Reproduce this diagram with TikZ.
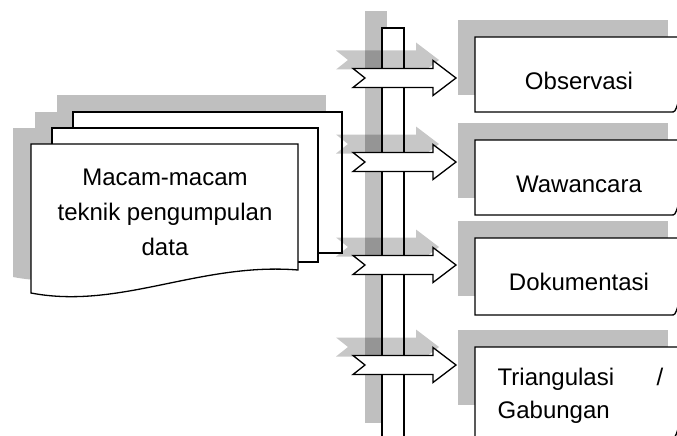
\documentclass[tikz,border=0pt]{standalone}
\usepackage{fontspec}
\setmainfont{Liberation Sans}

\begin{document}
\begin{tikzpicture}[x=1pt,y=-1pt,line width=1.3pt,
    every node/.style={font=\fontsize{24}{34}\selectfont,inner sep=0pt},
    shade/.style={fill=black!25,draw=none},
    arrowshade/.style={fill=black,fill opacity=0.22,draw=none},
    sheet/.style={draw=black,fill=white}]
    \useasboundingbox (0,0) rectangle (677,436);
    \clip (0,0) rectangle (677,436);
    \fill[shade] (57,95) rectangle (326,236);
    \fill[shade] (35,112) rectangle (301,245);
    \fill[shade] (13,128) -- (280,128) -- (280,254) .. controls (182,246) and (102,294) .. (13,277) -- cycle;
    \draw[sheet] (73,112) rectangle (342,253);
    \draw[sheet] (52,128) rectangle (318,262);
    \draw[sheet] (31,144) -- (298,144) -- (298,270) .. controls (200,262) and (120,310) .. (31,293) -- cycle;
    \node[anchor=base] (doc1) at (165,185) {Macam-macam};
    \node[anchor=base] (doc2) at (165,220) {teknik pengumpulan};
    \node[anchor=base] (doc3) at (165,255) {data};
    \foreach \t in {37,140,238,347}
        \fill[shade] (458,\t-17) rectangle (668,\t+58);
    \fill[shade] (365,11) rectangle (387,423);
    \draw[fill=white] (382,445) -- (382,28) -- (404,28) -- (404,445);
    \foreach \c in {78,162,265,365}{
        \begin{scope}[shift={(-17,\c-18)}]
            \fill[arrowshade] (353,-9.5) -- (433,-9.5) -- (433,-17.5) -- (456,0) -- (433,17.5) -- (433,9.5) -- (353,9.5) -- (365,0) -- cycle;
        \end{scope}
        \begin{scope}[shift={(0,\c)}]
            \draw[fill=white,line join=miter] (353,-9.5) -- (433,-9.5) -- (433,-17.5) -- (456,0) -- (433,17.5) -- (433,9.5) -- (353,9.5) -- (365,0) -- cycle;
        \end{scope}
    }
    \foreach \t/\b in {37/112,140/215,238/315,347/438}
        \draw[sheet] (700,\t) -- (475,\t) -- (475,\b) -- (671,\b) .. controls (675,\b) .. (678,\b-9);
    \node[anchor=base] (obs) at (579,89) {Observasi};
    \node[anchor=base] (waw) at (579,192) {Wawancara};
    \node[anchor=base] (dok) at (579,290) {Dokumentasi};
    \node[anchor=base west] (tri) at (497,385) {Triangulasi};
    \node[anchor=base east] (slash) at (664,385) {/};
    \node[anchor=base west] (gab) at (497,418) {Gabungan};
\end{tikzpicture}
\end{document}
